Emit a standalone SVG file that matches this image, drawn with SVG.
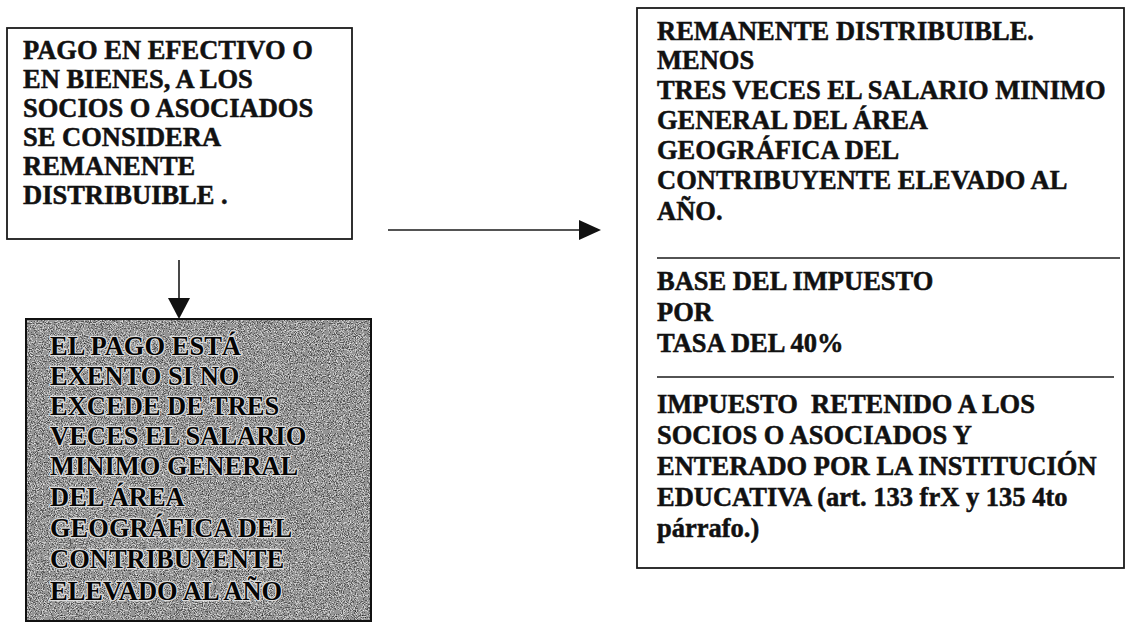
<svg xmlns="http://www.w3.org/2000/svg" width="1127" height="624" viewBox="0 0 1127 624">
  <style>
    .box { fill: #ffffff; stroke: #1a1a1a; stroke-width: 1.8; }
    .t { font-family: "Liberation Serif", "Times New Roman", serif; font-weight: bold; font-size: 26.5px; fill: #111111; stroke: #111111; stroke-width: 0.5px; white-space: pre; }
    .th { font-family: "Liberation Serif", "Times New Roman", serif; font-weight: bold; font-size: 26.5px; fill: #050505; stroke: #dddddd; stroke-width: 2.4px; paint-order: stroke; stroke-linejoin: round; }
    .sep { stroke: #1a1a1a; stroke-width: 1.6; }
    .conn { stroke: #1a1a1a; stroke-width: 1.6; fill: none; }
  </style>
  <defs>
    <filter id="grain" x="0" y="0" width="1" height="1" filterUnits="objectBoundingBox">
      <feTurbulence type="fractalNoise" baseFrequency="0.85" numOctaves="2" seed="7" result="n"/>
      <feColorMatrix in="n" type="matrix" values="1 0 0 0 0  1 0 0 0 0  1 0 0 0 0  0 0 0 0 1" result="g"/>
      <feComponentTransfer in="g" result="d">
        <feFuncR type="discrete" tableValues="0.02 0.1 0.3 0.6 0.9"/>
        <feFuncG type="discrete" tableValues="0.02 0.1 0.3 0.6 0.9"/>
        <feFuncB type="discrete" tableValues="0.02 0.1 0.3 0.6 0.9"/>
      </feComponentTransfer>
      <feComposite in="d" in2="SourceGraphic" operator="in"/>
    </filter>
  </defs>
  <rect width="1127" height="624" fill="#ffffff"/>

  <g id="connectors">
    <line class="conn" x1="179" y1="260" x2="179" y2="300"/>
    <path d="M168,298 L190,298 L179,319 Z" fill="#111111"/>
    <line class="conn" x1="388" y1="230" x2="582" y2="230"/>
    <path d="M579,220 L601,230 L579,240 Z" fill="#111111"/>
  </g>

  <g id="node-pago">
    <rect class="box" x="7" y="28" width="345" height="211"/>
    <text class="t" x="23" y="59">PAGO EN EFECTIVO O</text>
    <text class="t" x="23" y="88">EN BIENES, A LOS</text>
    <text class="t" x="23" y="117">SOCIOS O ASOCIADOS</text>
    <text class="t" x="23" y="146">SE CONSIDERA</text>
    <text class="t" x="23" y="175">REMANENTE</text>
    <text class="t" x="23" y="204">DISTRIBUIBLE .</text>
  </g>

  <g id="node-exento">
    <rect x="26" y="319" width="345" height="302" fill="#6a6a6a"/>
    <rect x="26" y="319" width="345" height="302" fill="#6a6a6a" filter="url(#grain)"/>
    <rect x="26" y="319" width="345" height="302" fill="none" stroke="#111111" stroke-width="2"/>
    <text class="th" x="50" y="355">EL PAGO ESTÁ</text>
    <text class="th" x="50" y="385">EXENTO SI NO</text>
    <text class="th" x="50" y="415">EXCEDE DE TRES</text>
    <text class="th" x="50" y="445">VECES EL SALARIO</text>
    <text class="th" x="50" y="475">MINIMO GENERAL</text>
    <text class="th" x="50" y="506">DEL ÁREA</text>
    <text class="th" x="50" y="537">GEOGRÁFICA DEL</text>
    <text class="th" x="50" y="568">CONTRIBUYENTE</text>
    <text class="th" x="50" y="600">ELEVADO AL AÑO</text>
  </g>

  <g id="node-calculo">
    <rect class="box" x="637" y="8" width="487" height="560"/>
    <text class="t" x="657" y="40">REMANENTE DISTRIBUIBLE.</text>
    <text class="t" x="657" y="69">MENOS</text>
    <text class="t" x="657" y="99">TRES VECES EL SALARIO MINIMO</text>
    <text class="t" x="657" y="129">GENERAL DEL ÁREA</text>
    <text class="t" x="657" y="159">GEOGRÁFICA DEL</text>
    <text class="t" x="657" y="189">CONTRIBUYENTE ELEVADO AL</text>
    <text class="t" x="657" y="220">AÑO.</text>
    <line class="sep" x1="657" y1="258" x2="1120" y2="258"/>
    <text class="t" x="657" y="290">BASE DEL IMPUESTO</text>
    <text class="t" x="657" y="321">POR</text>
    <text class="t" x="657" y="352">TASA DEL 40%</text>
    <line class="sep" x1="657" y1="377" x2="1114" y2="377"/>
    <text class="t" x="657" y="413">IMPUESTO  RETENIDO A LOS</text>
    <text class="t" x="657" y="444">SOCIOS O ASOCIADOS Y</text>
    <text class="t" x="657" y="475">ENTERADO POR LA INSTITUCIÓN</text>
    <text class="t" x="657" y="506">EDUCATIVA (art. 133 frX y 135 4to</text>
    <text class="t" x="657" y="537">párrafo.)</text>
  </g>
</svg>
